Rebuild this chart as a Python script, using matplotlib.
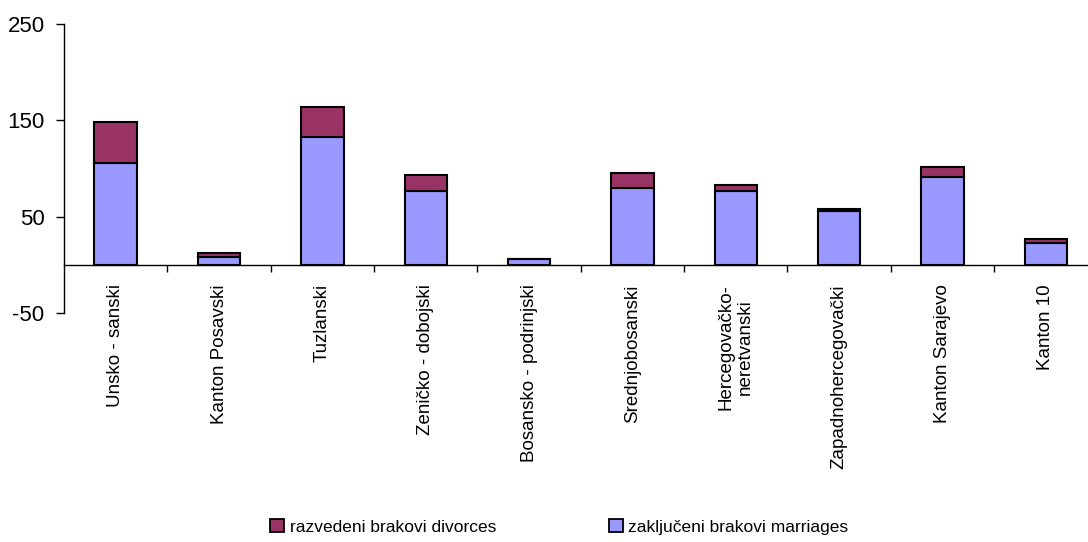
import matplotlib.pyplot as plt
import numpy as np
from matplotlib.patches import Patch

# ---- Data ----
CANTONS = [
    "Unsko - sanski", "Kanton Posavski", "Tuzlanski", "Zeničko - dobojski",
    "Bosansko - podrinjski", "Srednjobosanski", "Hercegovačko-\nneretvanski",
    "Zapadnohercegovački", "Kanton Sarajevo", "Kanton 10",
]
MARRIAGES = [106, 8, 133, 77, 6, 80, 77, 56, 91, 23]
DIVORCES = [42, 4, 31, 16, 0, 15, 6, 2, 11, 4]
YTICKS = [-50, 50, 150, 250]

LBL_DIV = "razvedeni brakovi divorces"
LBL_MAR = "zaključeni brakovi marriages"

# ---- Styling ----
C_DIV = "#993366"
C_MAR = "#9999FF"
plt.rcParams["font.family"] = ["Liberation Sans Narrow", "Liberation Sans", "DejaVu Sans"]
plt.rcParams["axes.unicode_minus"] = False

fig = plt.figure(figsize=(10.88, 5.42), dpi=100)
ax = fig.add_axes([0.0588, 0.4225, 0.950, 0.5332])

x = np.arange(len(CANTONS))
ax.bar(x, MARRIAGES, width=0.41, color=C_MAR, edgecolor="black", linewidth=1.5, zorder=2)
ax.bar(x, DIVORCES, width=0.41, bottom=MARRIAGES, color=C_DIV, edgecolor="black",
       linewidth=1.5, zorder=2)

ax.set_xlim(-0.5, len(CANTONS) - 0.5)
ax.set_ylim(-50, 250)
ax.set_yticks(YTICKS)
ax.tick_params(axis="y", labelsize=16, length=6, width=1, direction="out", pad=8)

# category boundaries as major ticks, names as minor tick labels
ax.set_xticks(x[:-1] + 0.5)
ax.set_xticklabels([])
ax.set_xticks(x, minor=True)
ax.set_xticklabels(CANTONS, minor=True)
ax.tick_params(axis="x", which="major", length=5, width=1, direction="out")
ax.tick_params(axis="x", which="minor", length=0, pad=14, labelsize=13.5, labelrotation=90)
for lab in ax.get_xticklabels(minor=True):
    lab.set_ha("center")
    lab.set_va("top")
    lab.set_multialignment("center")

for side in ("top", "right"):
    ax.spines[side].set_visible(False)
ax.spines["bottom"].set_position(("data", 0))
ax.spines["bottom"].set_linewidth(1)
ax.spines["left"].set_linewidth(1)

legend_elements = [
    Patch(facecolor=C_DIV, edgecolor="black", linewidth=1.3, label=LBL_DIV),
    Patch(facecolor=C_MAR, edgecolor="black", linewidth=1.3, label=LBL_MAR),
]
fig.legend(handles=legend_elements, loc="center", bbox_to_anchor=(0.514, 0.028),
           ncol=2, frameon=False, fontsize=12.5, handlelength=0.8, handleheight=0.8,
           handletextpad=0.3, columnspacing=6.5)

fig.savefig("out.png", dpi=100)
print("Saved: out.png")
